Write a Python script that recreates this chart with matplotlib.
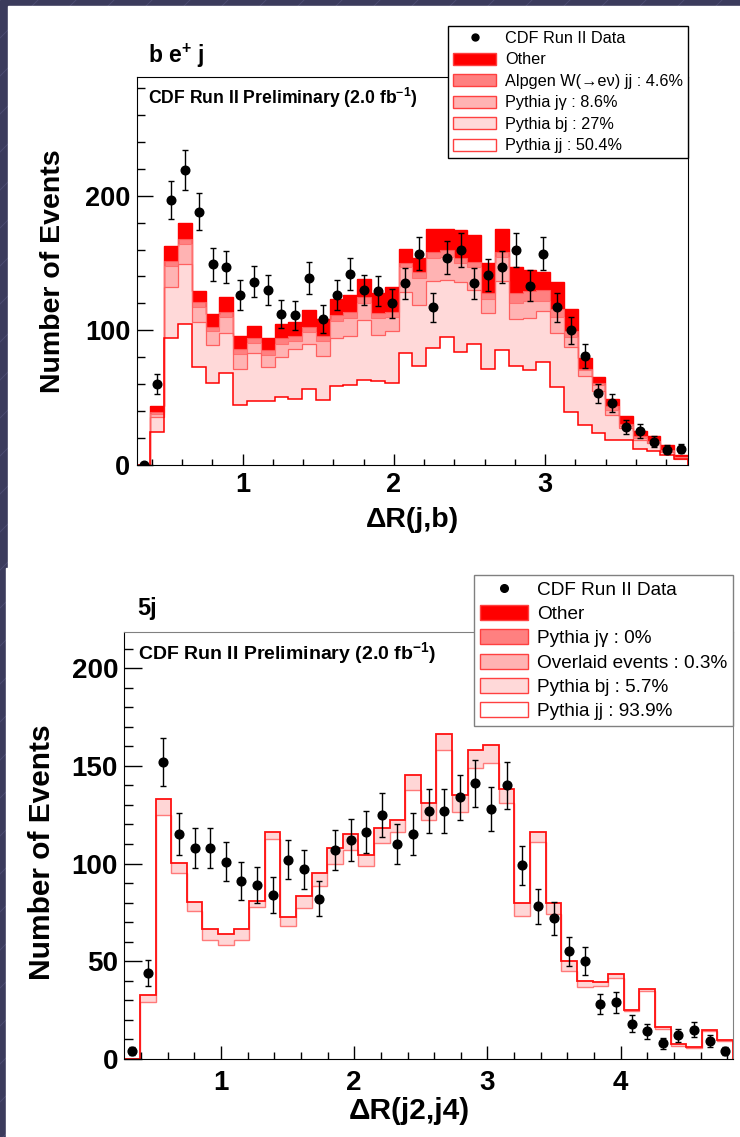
import numpy as np
import matplotlib
matplotlib.use("Agg")
import matplotlib.pyplot as plt
from matplotlib.patches import Rectangle, Patch
from matplotlib.lines import Line2D
from matplotlib.ticker import MultipleLocator

plt.rcParams['font.family'] = ['Liberation Sans', 'DejaVu Sans']
plt.rcParams['mathtext.fontset'] = 'custom'
plt.rcParams['mathtext.rm'] = 'Liberation Sans'
plt.rcParams['mathtext.bf'] = 'Liberation Sans:bold'

# ---- b e+ j : dR(j,b), 40 bins, cumulative stack heights ----
edges_bej = np.linspace(0.3, 3.945, 41)
top_jj = [0, 24.5, 94, 104.5, 73, 60.5, 68.5, 44.5, 47.5, 47.5, 50, 49, 56, 48, 58.5, 59, 63, 62.5, 60.5, 83,
          73.5, 87, 95, 83.5, 90, 71, 85, 73.5, 70.5, 76, 57.5, 39, 29.5, 23.5, 18.5, 18.5, 12, 10.5, 7, 4]
top_bj = [0, 35.5, 132, 149, 106, 89, 98, 71, 83, 72.5, 80, 86, 90, 81, 94, 96, 107.5, 96.5, 99.5, 128.5,
          118.5, 136.5, 137.5, 135.5, 130, 112.5, 136.5, 108, 109, 114.5, 98, 87.5, 66, 55, 37, 27, 18.5, 16, 9.5, 4.5]
top_jgam = [0, 37.5, 148, 164, 117.5, 99.5, 109.5, 82, 90.5, 81.5, 89.5, 92, 99, 92, 106.5, 109, 120.5, 109, 110, 147,
            139, 153.5, 154.5, 150, 147, 123.5, 154.5, 120, 121.5, 122, 110, 95, 70.5, 59, 40.5, 29, 19.5, 16.5, 10, 5.5]
top_wjj = [0, 39, 151.5, 168, 121, 102.5, 113.5, 86, 94.5, 85, 94, 95.5, 102.5, 96, 111, 113.5, 125, 113, 113.5, 150,
           143.5, 158.5, 159.5, 153.5, 151, 127.5, 158.5, 128, 129.5, 130, 115.5, 99.5, 71.5, 60.5, 43.5, 30.5, 21, 17.5, 11, 6]
top_other = [0, 44, 163, 180, 129.5, 112, 124.5, 96, 103, 94.5, 104.5, 106, 115, 108, 123, 126.5, 138, 127.5, 132, 160.5,
             154, 175.5, 175.5, 174.5, 171, 150, 175.5, 147, 144.5, 143.5, 135.5, 116, 79, 65.5, 48.5, 36.5, 25, 21.5, 14.5, 7]
data_bej = [0, 60, 197, 219, 188, 149, 147, 126, 136, 130, 112, 111, 139, 108, 126, 142, 130, 129, 120, 135,
            157, 117, 154, 160, 135, 141, 147, 160, 133, 157, 117, 100, 81, 53, 46, 28, 25, 17, 11, 12]
labels_bej = ["CDF Run II Data", "Other", "Alpgen W(\u2192e\u03bd) jj : 4.6%", "Pythia j\u03b3 : 8.6%",
              "Pythia bj : 27%", "Pythia jj : 50.4%"]

# ---- 5j : dR(j2,j4), 39 bins ----
edges_5j = np.linspace(0.275, 4.842, 40)
jj_5j = [0, 29, 125, 95, 75.5, 61, 58.5, 61, 77.5, 112.5, 68, 77, 88.5, 99.5, 107, 98.5, 110.5, 116, 137.5, 122.5,
         158, 126.5, 149, 151.5, 131, 73, 111, 74, 45, 37, 37.5, 41.5, 24.5, 34.5, 15.5, 6.5, 5.5, 14, 9]
bj_5j = [0, 32.5, 133, 100.5, 80.5, 66.5, 64, 66.5, 81, 116, 72.5, 83.5, 95, 108, 115, 104.5, 118, 122.5, 145.5, 131,
         166.5, 135, 158, 160.5, 138, 80, 116, 80, 50, 40, 39.5, 43.5, 25, 35.5, 16.5, 7.5, 6, 15, 9.5]
data_5j = [4, 44, 152, 115, 108, 108, 101, 91, 89, 84, 102, 97, 82, 107, 112, 116, 125, 110, 115, 127,
           127, 134, 141, 128, 140, 99, 78, 72, 55, 50, 28, 29, 18, 14, 8, 12, 15, 9, 4]
labels_5j = ["CDF Run II Data", "Other", "Pythia j\u03b3 : 0%", "Overlaid events : 0.3%",
             "Pythia bj : 5.7%", "Pythia jj : 93.9%"]

fills = ['#ff0000', '#ff8080', '#ffb3b3', '#ffd9d9', 'white']

W, H = 740, 1137
fig = plt.figure(figsize=(W / 100, H / 100), dpi=100)

# slide background
bg = fig.add_axes([0, 0, 1, 1], zorder=-10)
bg.set_xlim(0, W)
bg.set_ylim(H, 0)
bg.axis('off')
bg.add_patch(Rectangle((0, 0), W, H, color='#3b3b5c', zorder=0))
for c in range(-H, W, 38):
    bg.plot([c, c + H], [H, 0], color='#4e4e74', lw=0.6, zorder=1)
bg.add_patch(Rectangle((8, 6), W - 8, 562, color='white', zorder=3))
bg.add_patch(Rectangle((6, 568), W - 6, H - 568, color='white', zorder=3))


def pix_axes(left, top, right, bottom):
    return fig.add_axes([left / W, 1 - bottom / H, (right - left) / W, (bottom - top) / H])


def legend_handles(ms):
    hs = [Line2D([], [], marker='o', ls='none', color='black', ms=ms)]
    for fc in fills:
        hs.append(Patch(facecolor=fc, edgecolor='#ff4040', lw=1))
    return hs


# ================= top panel =================
ax1 = pix_axes(136.7, 77, 688, 464.7)
levels = [top_jj, top_bj, top_jgam, top_wjj, top_other]
for lo, hi, fc in zip(levels[:-1], levels[1:], fills[3::-1]):
    ax1.stairs(hi, edges_bej, baseline=lo, fill=True, color=fc, lw=0)
for lv, lc, lw in zip(levels[::-1], ['#ff0000', '#ff5a5a', '#ff7070', '#ff6060', '#ff0000'],
                      [1.0, 0.8, 0.8, 0.9, 1.1]):
    ax1.stairs(lv, edges_bej, baseline=0, color=lc, lw=lw)
cen = 0.5 * (edges_bej[1:] + edges_bej[:-1])
ax1.errorbar(cen, data_bej, yerr=np.sqrt(data_bej), fmt='o', color='black', ms=6.2,
             elinewidth=1, capsize=2, capthick=1, zorder=5)
ax1.set_xlim(0.3, 3.945)
ax1.set_ylim(0, 288.3)
ax1.xaxis.set_major_locator(MultipleLocator(1))
ax1.xaxis.set_minor_locator(MultipleLocator(0.2))
ax1.yaxis.set_major_locator(MultipleLocator(100))
ax1.yaxis.set_minor_locator(MultipleLocator(20))
ax1.tick_params(axis='both', which='both', direction='in', labelsize=19.5, width=1)
ax1.tick_params(axis='x', which='major', length=8, pad=5.5)
ax1.tick_params(axis='x', which='minor', length=4)
ax1.tick_params(axis='y', which='major', length=11.5, pad=4.5)
ax1.tick_params(axis='y', which='minor', length=5.8)
for t in ax1.get_xticklabels() + ax1.get_yticklabels():
    t.set_fontweight('bold')
ax1.set_ylabel("Number of Events", fontsize=20.5, fontweight='bold')
ax1.yaxis.set_label_coords(-0.128, 0.5)
ax1.set_xlabel("\u0394R(j,b)", fontsize=20.5, fontweight='bold')
ax1.xaxis.set_label_coords(0.5, -0.109)
ax1.text(0.0205, 0.946, r"CDF Run II Preliminary (2.0 fb$^{\mathbf{-1}}$)", transform=ax1.transAxes,
         fontsize=12.7, fontweight='bold', va='center', ha='left')
leg1 = ax1.legend(legend_handles(5), labels_bej, loc='upper right', bbox_to_anchor=(1.0, 1.1315),
                  borderaxespad=0, fontsize=11.7, frameon=True, fancybox=False, edgecolor='black',
                  framealpha=1, borderpad=0.3, labelspacing=0.40, handlelength=2.65, handleheight=0.8,
                  handletextpad=0.55)
leg1.get_frame().set_linewidth(1)
leg1.set_zorder(10)
fig.text(148 / W, 1 - 56 / H, r"b e$^{\mathbf{+}}$ j", fontsize=16.5, fontweight='bold', va='center')

# ================= bottom panel =================
ax2 = pix_axes(124.3, 632.3, 733, 1058.8)
ax2.stairs(bj_5j, edges_5j, baseline=jj_5j, fill=True, color='#ffd6d6', lw=0)
ax2.stairs(jj_5j, edges_5j, baseline=0, color='#ff7a7a', lw=1)
ax2.stairs(bj_5j, edges_5j, baseline=0, color='#ff1010', lw=1.3)
cen5 = 0.5 * (edges_5j[1:] + edges_5j[:-1])
ax2.errorbar(cen5, data_5j, yerr=np.sqrt(data_5j), fmt='o', color='black', ms=6.3,
             elinewidth=1, capsize=2, capthick=1, zorder=5)
ax2.set_xlim(0.275, 4.842)
ax2.set_ylim(0, 218.4)
ax2.xaxis.set_major_locator(MultipleLocator(1))
ax2.xaxis.set_minor_locator(MultipleLocator(0.2))
ax2.yaxis.set_major_locator(MultipleLocator(50))
ax2.yaxis.set_minor_locator(MultipleLocator(10))
ax2.tick_params(axis='both', which='both', direction='in', labelsize=20, width=1)
ax2.tick_params(axis='x', which='major', length=9.4, pad=8)
ax2.tick_params(axis='x', which='minor', length=5)
ax2.tick_params(axis='y', which='major', length=13, pad=4.5)
ax2.tick_params(axis='y', which='minor', length=6.5)
for t in ax2.get_xticklabels() + ax2.get_yticklabels():
    t.set_fontweight('bold')
for s in ['top', 'right']:
    ax2.spines[s].set_color('#808080')
ax2.set_ylabel("Number of Events", fontsize=21.5, fontweight='bold')
ax2.yaxis.set_label_coords(-0.112, 0.485)
ax2.set_xlabel("\u0394R(j2,j4)", fontsize=21.5, fontweight='bold')
ax2.xaxis.set_label_coords(0.468, -0.09)
ax2.text(0.0225, 0.949, r"CDF Run II Preliminary (2.0 fb$^{\mathbf{-1}}$)", transform=ax2.transAxes,
         fontsize=14, fontweight='bold', va='center', ha='left')
leg2 = ax2.legend(legend_handles(5.5), labels_5j, loc='upper right', bbox_to_anchor=(1.0, 1.1343),
                  borderaxespad=0, fontsize=13.7, frameon=True, fancybox=False, edgecolor='#808080',
                  framealpha=1, borderpad=0.3, labelspacing=0.32, handlelength=2.5, handleheight=0.85,
                  handletextpad=0.5)
leg2.get_frame().set_linewidth(1)
leg2.set_zorder(10)
fig.text(137 / W, 1 - 608 / H, "5j", fontsize=17, fontweight='bold', va='center')

fig.savefig("out.png", dpi=100)
